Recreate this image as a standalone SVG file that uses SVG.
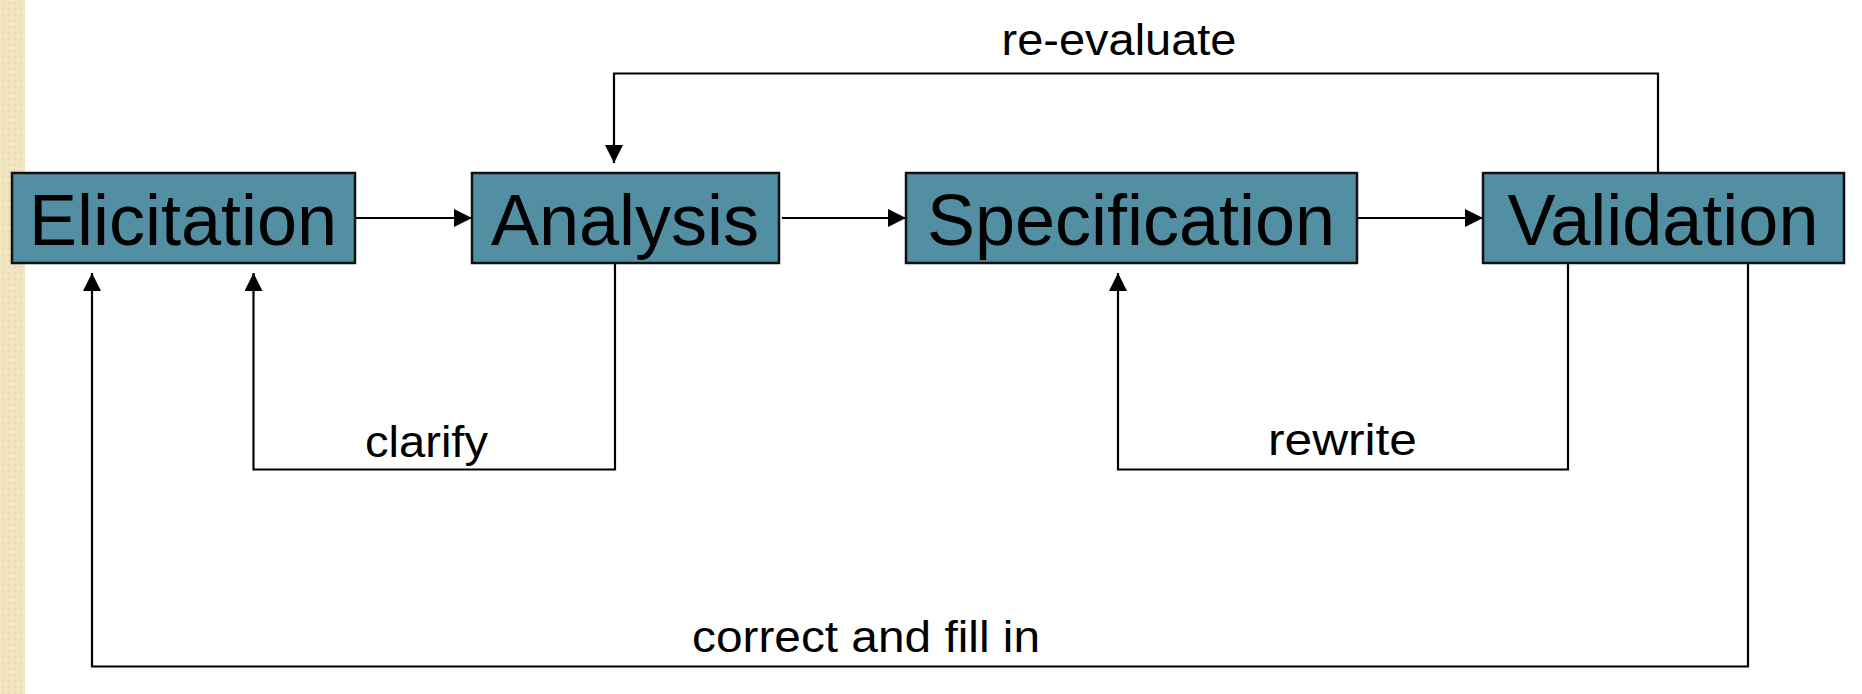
<svg xmlns="http://www.w3.org/2000/svg" width="1862" height="694" viewBox="0 0 1862 694">
  <defs>
    <pattern id="beige" width="6" height="6" patternUnits="userSpaceOnUse">
      <rect width="6" height="6" fill="#f2e5c2"/>
      <circle cx="3" cy="3" r="1.3" fill="#e9d9ad"/>
    </pattern>
    <marker id="arrow" markerUnits="userSpaceOnUse" markerWidth="19" markerHeight="19" refX="18" refY="9" orient="auto">
      <path d="M0,0 L18,9 L0,18 Z" fill="#000"/>
    </marker>
    <style>
      .box { fill: #528fa3; stroke: #111; stroke-width: 2.5; }
      .main { font-family: "Liberation Sans", Arial, sans-serif; font-size: 72px; fill: #000; text-anchor: middle; }
      .lbl { font-family: "Liberation Sans", Arial, sans-serif; font-size: 44px; fill: #000; text-anchor: middle; }
      .conn { fill: none; stroke: #000; stroke-width: 2.2; }
    </style>
  </defs>
  <rect x="0" y="0" width="1862" height="694" fill="#ffffff"/>
  <rect x="0" y="0" width="25" height="694" fill="url(#beige)"/>

  <g id="connectors">
    <line class="conn" x1="350" y1="218" x2="472" y2="218" marker-end="url(#arrow)"/>
    <line class="conn" x1="782" y1="218" x2="906" y2="218" marker-end="url(#arrow)"/>
    <line class="conn" x1="1357" y1="218" x2="1483" y2="218" marker-end="url(#arrow)"/>
    <polyline class="conn" points="1658,173 1658,73.5 614,73.5 614,163" marker-end="url(#arrow)"/>
    <polyline class="conn" points="615,263 615,469.5 253.5,469.5 253.5,273" marker-end="url(#arrow)"/>
    <polyline class="conn" points="1568,263 1568,469.5 1118,469.5 1118,273" marker-end="url(#arrow)"/>
    <polyline class="conn" points="1748,263 1748,666.5 92,666.5 92,273" marker-end="url(#arrow)"/>
    <text class="lbl" x="1119" y="55" textLength="235" lengthAdjust="spacingAndGlyphs">re-evaluate</text>
    <text class="lbl" x="426.5" y="457" textLength="123" lengthAdjust="spacingAndGlyphs">clarify</text>
    <text class="lbl" x="1342.5" y="455" textLength="149" lengthAdjust="spacingAndGlyphs">rewrite</text>
    <text class="lbl" x="866" y="652" textLength="348" lengthAdjust="spacingAndGlyphs">correct and fill in</text>
  </g>

  <g id="elicitation">
    <rect class="box" x="12" y="173" width="343" height="90"/>
    <text class="main" x="183" y="245">Elicitation</text>
  </g>
  <g id="analysis">
    <rect class="box" x="472" y="173" width="307" height="90"/>
    <text class="main" x="625" y="245">Analysis</text>
  </g>
  <g id="specification">
    <rect class="box" x="906" y="173" width="451" height="90"/>
    <text class="main" x="1131" y="245">Specification</text>
  </g>
  <g id="validation">
    <rect class="box" x="1483" y="173" width="361" height="90"/>
    <text class="main" x="1663" y="245">Validation</text>
  </g>
</svg>
